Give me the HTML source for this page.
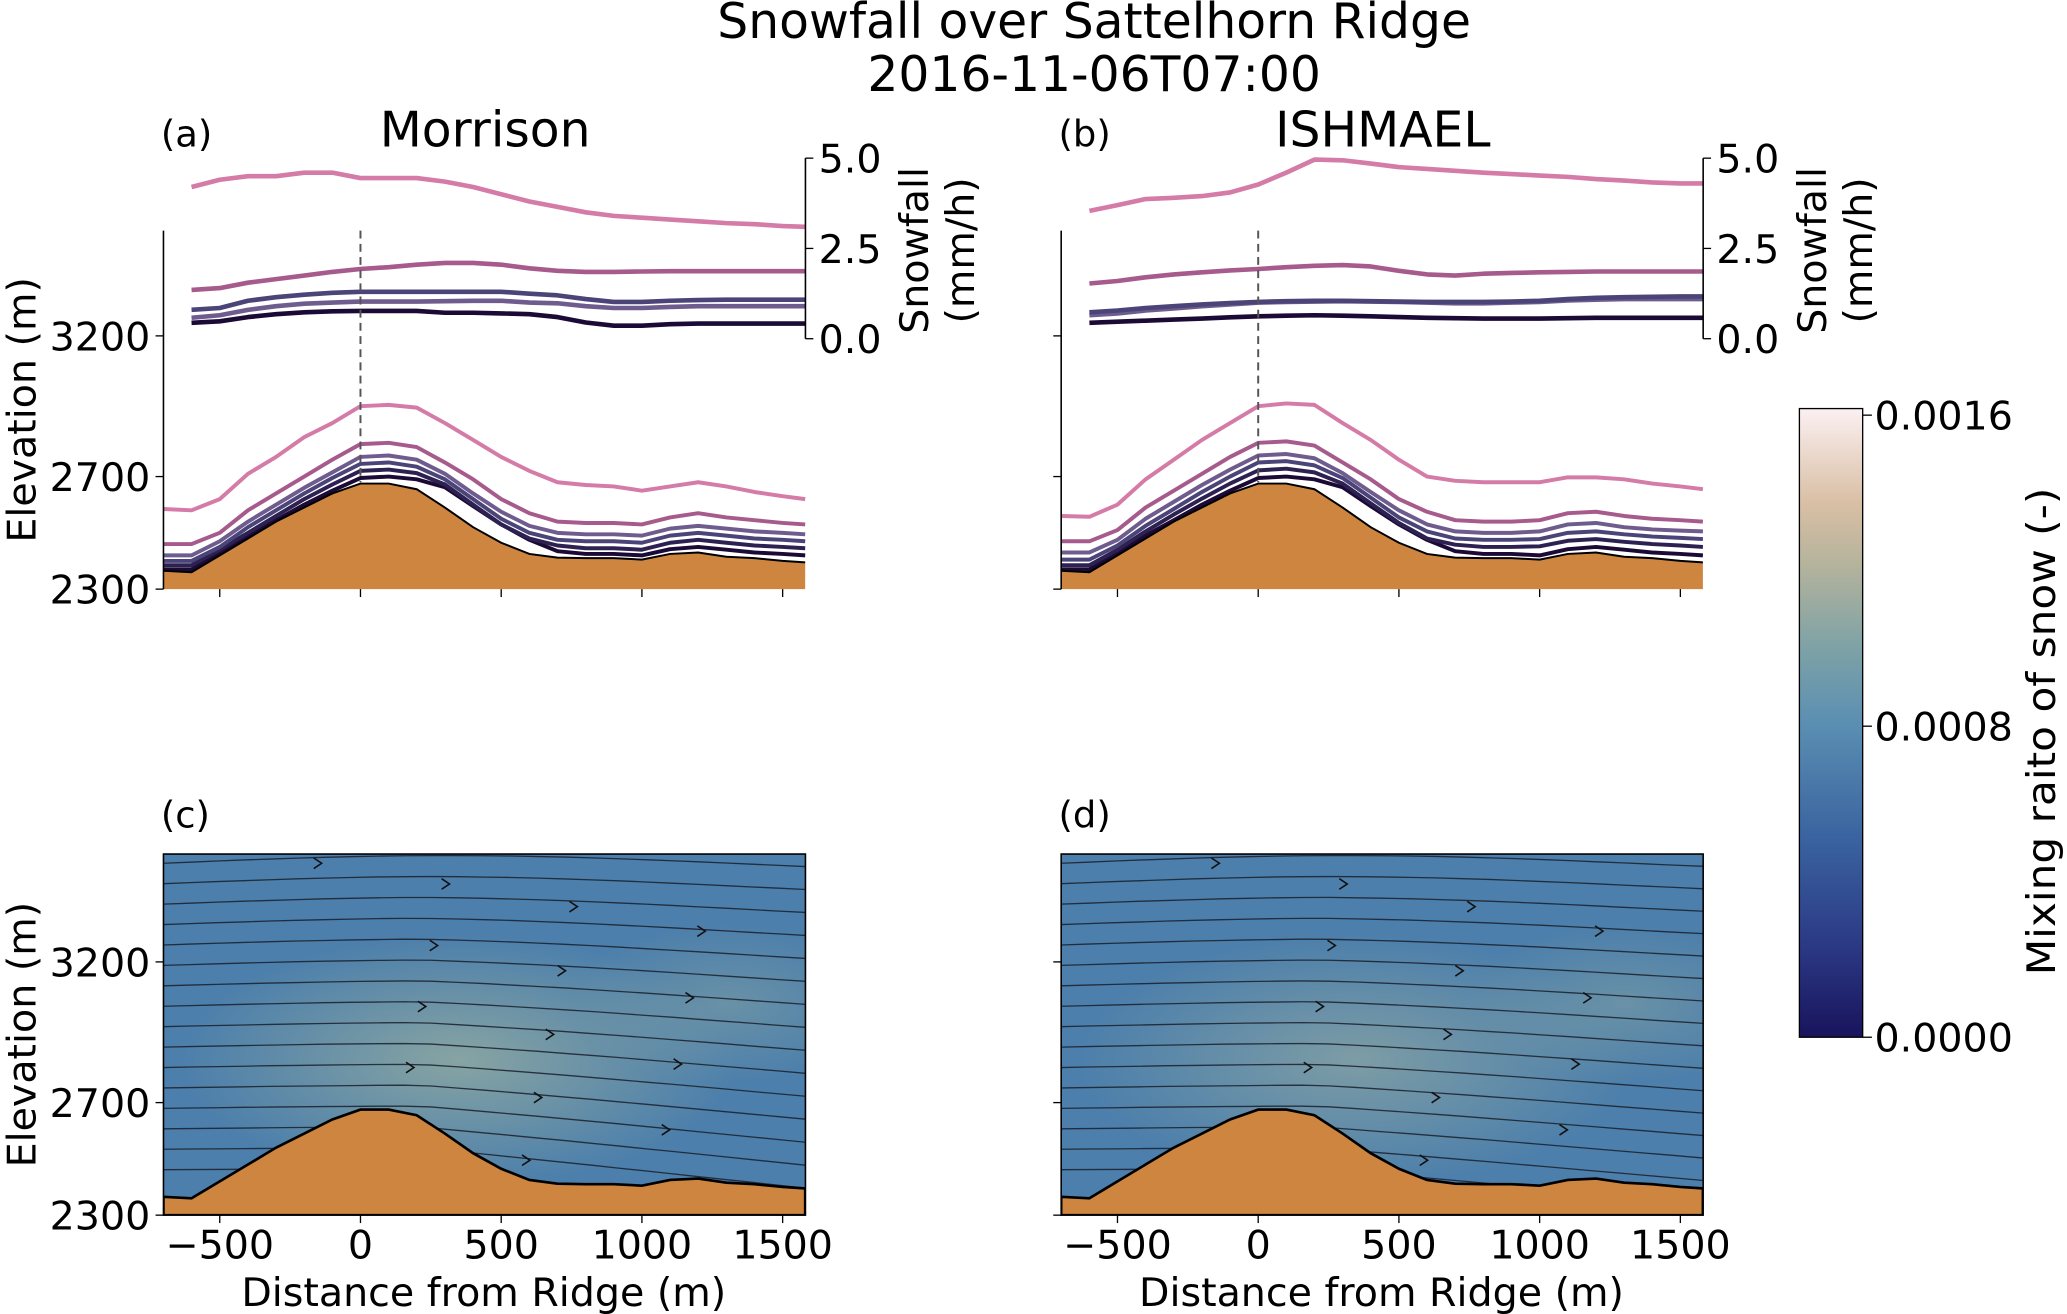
<!DOCTYPE html>
<html><head><meta charset="utf-8"><style>
html,body{margin:0;padding:0;background:#fff;}
svg{display:block;font-family:"DejaVu Sans","Liberation Sans",sans-serif;}
</style></head><body>
<svg id="fig" width="2067" height="1314" viewBox="0 0 1568 997" preserveAspectRatio="none" xmlns="http://www.w3.org/2000/svg">
<defs>
<linearGradient id="cbar" x1="0" y1="1" x2="0" y2="0">
<stop offset="0" stop-color="#18145c"/><stop offset="0.15" stop-color="#2c3a86"/><stop offset="0.32" stop-color="#3a64a0"/>
<stop offset="0.5" stop-color="#5b8fb2"/><stop offset="0.62" stop-color="#7ea2a6"/><stop offset="0.75" stop-color="#b4b39c"/>
<stop offset="0.85" stop-color="#d9bfa4"/><stop offset="1" stop-color="#fbf0f2"/></linearGradient>
<radialGradient id="blobC" cx="0.5" cy="0.5" r="0.5"><stop offset="0" stop-color="#8aa6a2" stop-opacity="0.95"/><stop offset="1" stop-color="#8aa6a2" stop-opacity="0"/></radialGradient>
<radialGradient id="blobD" cx="0.5" cy="0.5" r="0.5"><stop offset="0" stop-color="#86a2a4" stop-opacity="0.85"/><stop offset="1" stop-color="#86a2a4" stop-opacity="0"/></radialGradient>
<clipPath id="clipC"><rect x="124" y="648" width="487" height="274"/></clipPath>
<clipPath id="clipD"><rect x="805" y="648" width="487" height="274"/></clipPath>
</defs>
<text x="830" y="29" font-size="37" text-anchor="middle">Snowfall over Sattelhorn Ridge</text>
<text x="830" y="69" font-size="37" text-anchor="middle">2016-11-06T07:00</text>
<g id="root"></g>
<g>
<rect x="1365" y="310" width="48" height="477" fill="url(#cbar)" stroke="#000" stroke-width="1"/>
<line x1="1413" y1="315" x2="1420" y2="315" stroke="#000"/><line x1="1413" y1="551" x2="1420" y2="551" stroke="#000"/><line x1="1413" y1="787" x2="1420" y2="787" stroke="#000"/>
<text x="1422" y="326" font-size="30">0.0016</text>
<text x="1422" y="562" font-size="30">0.0008</text>
<text x="1422" y="798" font-size="30">0.0000</text>
<text transform="translate(1559,555) rotate(-90)" font-size="30" text-anchor="middle" textLength="370" lengthAdjust="spacingAndGlyphs">Mixing raito of snow (-)</text>
</g>
</svg>
<script>
const dist = [-700,-600,-500,-400,-300,-200,-100,0,100,200,300,400,500,600,700,800,900,1000,1100,1200,1300,1400,1500,1580];
const terrain = [2365,2360,2420,2480,2540,2590,2640,2675,2675,2655,2590,2520,2465,2425,2412,2410,2410,2405,2425,2430,2415,2410,2400,2395];
const lineDist = [-600,-500,-400,-300,-200,-100,0,100,200,300,400,500,600,700,800,900,1000,1100,1200,1300,1400,1500,1580];
// panel a snowfall (mm/h)
const snowA_pink   = [4.2,4.4,4.5,4.5,4.6,4.6,4.45,4.45,4.45,4.35,4.2,4.0,3.8,3.65,3.5,3.4,3.35,3.3,3.25,3.2,3.17,3.12,3.1];
const snowA_mauve  = [1.35,1.4,1.55,1.65,1.75,1.85,1.93,1.98,2.05,2.1,2.1,2.05,1.95,1.88,1.85,1.85,1.86,1.87,1.87,1.87,1.87,1.87,1.87];
const snowA_blue   = [0.8,0.85,1.05,1.15,1.22,1.27,1.3,1.3,1.3,1.3,1.3,1.3,1.25,1.2,1.1,1.02,1.02,1.05,1.07,1.08,1.08,1.08,1.08];
const snowA_purple = [0.58,0.65,0.8,0.9,0.97,1.0,1.03,1.03,1.03,1.04,1.05,1.05,1.0,0.98,0.9,0.85,0.85,0.88,0.9,0.9,0.9,0.9,0.9];
const snowA_dark   = [0.44,0.48,0.6,0.68,0.73,0.76,0.77,0.77,0.77,0.72,0.72,0.7,0.68,0.6,0.45,0.36,0.36,0.4,0.42,0.42,0.42,0.42,0.42];
// panel b snowfall (mm/h)
const snowB_pink   = [3.54,3.7,3.87,3.9,3.95,4.05,4.27,4.6,4.96,4.94,4.85,4.75,4.7,4.65,4.6,4.56,4.52,4.48,4.42,4.38,4.33,4.3,4.3];
const snowB_mauve  = [1.53,1.6,1.7,1.78,1.84,1.89,1.93,1.98,2.02,2.04,2.0,1.88,1.78,1.75,1.8,1.82,1.84,1.85,1.86,1.86,1.86,1.86,1.86];
const snowB_blue   = [0.73,0.78,0.85,0.9,0.95,0.99,1.02,1.04,1.05,1.05,1.04,1.03,1.02,1.02,1.02,1.03,1.05,1.1,1.13,1.15,1.16,1.17,1.17];
const snowB_purple = [0.65,0.7,0.78,0.84,0.9,0.95,1.0,1.02,1.03,1.04,1.03,1.02,1.0,0.98,0.98,1.0,1.02,1.06,1.08,1.1,1.1,1.1,1.1];
const snowB_dark   = [0.44,0.47,0.5,0.53,0.56,0.59,0.62,0.64,0.65,0.64,0.62,0.6,0.58,0.57,0.56,0.56,0.56,0.57,0.58,0.58,0.58,0.58,0.58];
// elevation contours (m), panels a and b (same x positions as terrain)
const contA_pink   = [2585,2580,2620,2710,2770,2840,2890,2950,2955,2945,2890,2830,2770,2720,2680,2670,2665,2650,2665,2680,2665,2645,2630,2620];
const contA_mauve  = [2460,2460,2500,2580,2640,2700,2760,2815,2820,2805,2750,2690,2620,2570,2540,2535,2535,2530,2555,2570,2555,2545,2535,2530];
const contA_l3     = [2420,2420,2470,2540,2600,2660,2715,2770,2775,2760,2710,2640,2575,2525,2500,2495,2495,2490,2515,2525,2515,2505,2500,2495];
const contA_l4     = [2400,2400,2450,2520,2580,2640,2695,2745,2750,2735,2690,2620,2550,2500,2475,2470,2470,2465,2490,2500,2490,2480,2475,2470];
const contA_l5     = [2385,2385,2440,2500,2560,2620,2672,2720,2725,2712,2672,2600,2530,2480,2455,2445,2445,2440,2465,2475,2465,2455,2450,2445];
const contA_l6     = [2370,2370,2430,2490,2545,2600,2650,2695,2700,2690,2662,2595,2530,2475,2435,2425,2425,2420,2442,2450,2440,2430,2425,2420];
const contB_pink   = [2560,2557,2600,2690,2760,2830,2890,2950,2960,2955,2890,2830,2760,2700,2685,2680,2680,2680,2697,2697,2690,2675,2665,2655];
const contB_mauve  = [2470,2470,2510,2590,2650,2710,2770,2820,2825,2810,2750,2690,2620,2575,2545,2540,2540,2545,2570,2575,2560,2550,2545,2540];
const contB_l3     = [2430,2430,2475,2550,2610,2670,2725,2775,2780,2765,2712,2645,2580,2530,2505,2500,2500,2505,2530,2535,2520,2512,2508,2505];
const contB_l4     = [2405,2405,2455,2525,2585,2645,2700,2750,2755,2740,2695,2625,2555,2505,2480,2475,2475,2478,2500,2505,2495,2487,2482,2478];
const contB_l5     = [2385,2385,2440,2505,2565,2622,2675,2722,2728,2715,2675,2605,2535,2480,2458,2450,2450,2452,2472,2478,2468,2460,2455,2450];
const contB_l6     = [2370,2370,2430,2490,2545,2600,2650,2695,2700,2690,2662,2595,2530,2475,2435,2425,2425,2420,2442,2450,2440,2430,2425,2420];
const xTicks = [-500,0,500,1000,1500];
const yTicks = [2300,2700,3200];
const snowTicks = [0.0,2.5,5.0];

const NS='http://www.w3.org/2000/svg';
const root=document.getElementById('root');
function mk(tag,attrs,parent){const e=document.createElementNS(NS,tag);for(const k in attrs)e.setAttribute(k,attrs[k]);(parent||root).appendChild(e);return e;}
const XS=0.2135;
const FS=30;
function xScale(left){return d=>left+(d+700)*XS;}
function yScale(bottom){return e=>bottom-(e-2300)*XS;}
function sScale(v){return 257-v*27.4;}
const colors=['#d47ba7','#a65b8c','#6f5c8e','#4a4478','#2d2152','#1c0a36'];

function terrainPath(X,Y){let d='M'+X(dist[0])+','+Y(2300);dist.forEach((v,i)=>{d+=' L'+X(v).toFixed(1)+','+Y(terrain[i]).toFixed(1);});d+=' L'+X(dist[dist.length-1])+','+Y(2300)+' Z';return d;}
function linePath(X,Yf,arr,xs){return arr.map((v,i)=>(i?'L':'M')+X(xs[i]).toFixed(1)+','+Yf(v).toFixed(1)).join(' ');}

function topPanel(left,label,title,snow,conts,name){
  const X=xScale(left),Y=yScale(447);
  const g=mk('g',{});
  
  
  const t=mk('path',{d:terrainPath(X,Y),fill:'#cd853f'},g);
  
  
  for(let i=conts.length-1;i>=0;i--){const p=mk('path',{d:linePath(X,Y,conts[i],dist),fill:'none',stroke:colors[i],'stroke-width':3,'stroke-linejoin':'round'},g);
    
    }
  const tl=mk('path',{d:linePath(X,Y,terrain,dist),fill:'none',stroke:'#000','stroke-width':1.5},g);
  
  
  const sc=[0,1,3,2,5];
  for(let i=snow.length-1;i>=0;i--){const p=mk('path',{d:linePath(X,sScale,snow[i],lineDist),fill:'none',stroke:colors[sc[i]],'stroke-width':3.5,'stroke-linejoin':'round'},g);
    
    }
  const dl=mk('line',{x1:X(0),y1:175,x2:X(0),y2:Y(2680),stroke:'#555','stroke-width':1.5,'stroke-dasharray':'6,4'},g);
  
  
  const sp=mk('line',{x1:left,y1:175,x2:left,y2:447,stroke:'#000','stroke-width':1.2},g);
  
  
  yTicks.forEach(v=>{mk('line',{x1:left-6,y1:Y(v),x2:left,y2:Y(v),stroke:'#000'},g);
    if(left<200){const tx=mk('text',{x:left-10,y:Y(v)+11,'font-size':FS,'text-anchor':'end'},g);tx.textContent=v;
      
      }});
  xTicks.forEach(v=>mk('line',{x1:X(v),y1:447,x2:X(v),y2:453,stroke:'#000'},g));
  const ax=left+487;
  const s2=mk('line',{x1:ax,y1:sScale(5),x2:ax,y2:sScale(0),stroke:'#000','stroke-width':1.2},g);
  
  
  snowTicks.forEach(v=>{mk('line',{x1:ax,y1:sScale(v),x2:ax+6,y2:sScale(v),stroke:'#000'},g);
    const tx=mk('text',{x:ax+10,y:sScale(v)+11,'font-size':FS},g);tx.textContent=v.toFixed(1);
    
    });
  const sl=mk('text',{transform:`translate(${ax+93},190) rotate(-90)`,'font-size':FS,'text-anchor':'middle'},g);
  sl.innerHTML='<tspan x="0" dy="0">Snowfall</tspan><tspan x="0" dy="35">(mm/h)</tspan>';
  
  
  const lb=mk('text',{x:left-2,y:111,'font-size':28},g);lb.textContent=label;
  
  
  const ti=mk('text',{x:left+244,y:111,'font-size':37,'text-anchor':'middle'},g);ti.textContent=title;
  
  
  if(left<200){const yl=mk('text',{transform:'translate(27,311) rotate(-90)','font-size':FS,'text-anchor':'middle'},g);yl.textContent='Elevation (m)';
    
    }
}

function streams(g,left,variant){
  for(let k=0;k<16;k++){
    const y0=655+k*15.5;
    let d='';
    for(let j=0;j<=24;j++){
      const x=left+j*20.3;
      const rel=j/24;
      const depth=(y0-650)/274;
      const dy=Math.sin(rel*Math.PI*1.1)*(-6)*(1-depth)+ (rel>0.4? (rel-0.4)*60*depth*(variant?0.8:1):0);
      d+=(j?'L':'M')+x.toFixed(1)+','+(y0+dy).toFixed(1)+' ';
    }
    const p=mk('path',{d:d,fill:'none',stroke:'#1a1f2a','stroke-width':1,'stroke-opacity':0.85},g);
    
    
    const ax=left+120+((k*97)%300), ay=y0+ (ax-left>195? ((ax-left)/487-0.4)*60*((y0-650)/274):0);
    const a=mk('path',{d:`M${ax-6},${ay-4} L${ax},${ay} L${ax-6},${ay+4}`,fill:'none',stroke:'#111','stroke-width':1.2},g);
    
    
  }
}

function bottomPanel(left,label,name,variant){
  const X=xScale(left),Y=yScale(922);
  const g=mk('g',{});
  
  
  const cg=mk('g',{'clip-path':variant?'url(#clipD)':'url(#clipC)'},g);
  const bg=mk('rect',{x:left,y:648,width:487,height:274,fill:'#4c7fab'},cg);
  
  
  mk('ellipse',{cx:X(350),cy:Y(2850),rx:210,ry:95,fill:variant?'url(#blobD)':'url(#blobC)'},cg);
  mk('ellipse',{cx:X(1300),cy:Y(3050),rx:120,ry:60,fill:'url(#blobC)','opacity':0.5},cg);
  streams(cg,left,variant);
  const t=mk('path',{d:terrainPath(X,Y),fill:'#cd853f',stroke:'#000','stroke-width':2},cg);
  
  
  const fr=mk('rect',{x:left,y:648,width:487,height:274,fill:'none',stroke:'#000','stroke-width':1.2},g);
  
  
  yTicks.forEach(v=>{mk('line',{x1:left-6,y1:Y(v),x2:left,y2:Y(v),stroke:'#000'},g);
    if(left<200){const tx=mk('text',{x:left-10,y:Y(v)+11,'font-size':FS,'text-anchor':'end'},g);tx.textContent=v;
      
      }});
  xTicks.forEach(v=>{mk('line',{x1:X(v),y1:922,x2:X(v),y2:928,stroke:'#000'},g);
    const tx=mk('text',{x:X(v),y:955,'font-size':FS,'text-anchor':'middle'},g);tx.textContent=(v<0?'\u2212':'')+Math.abs(v);
    
    });
  const xl=mk('text',{x:left+243,y:991,'font-size':FS,'text-anchor':'middle'},g);xl.textContent='Distance from Ridge (m)';
  
  
  const lb=mk('text',{x:left-2,y:628,'font-size':28},g);lb.textContent=label;
  
  
  if(left<200){const yl=mk('text',{transform:'translate(27,785) rotate(-90)','font-size':FS,'text-anchor':'middle'},g);yl.textContent='Elevation (m)';
    
    }
}

topPanel(124,'(a)','Morrison',[snowA_pink,snowA_mauve,snowA_blue,snowA_purple,snowA_dark],[contA_pink,contA_mauve,contA_l3,contA_l4,contA_l5,contA_l6],'panel-a-morrison');
topPanel(805,'(b)','ISHMAEL',[snowB_pink,snowB_mauve,snowB_blue,snowB_purple,snowB_dark],[contB_pink,contB_mauve,contB_l3,contB_l4,contB_l5,contB_l6],'panel-b-ishmael');
bottomPanel(124,'(c)','panel-c-morrison-streamlines',false);
bottomPanel(805,'(d)','panel-d-ishmael-streamlines',true);
</script>
</body></html>
